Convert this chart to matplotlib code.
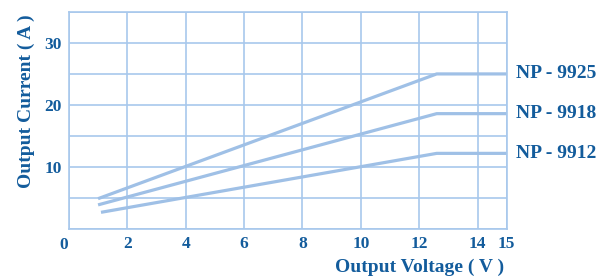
import matplotlib.pyplot as plt

# series: voltage (V) vs current (A)
v_9925 = [1.0, 12.6, 15.0]
i_9925 = [4.9, 25.0, 25.0]
v_9918 = [1.0, 12.6, 15.0]
i_9918 = [3.9, 18.6, 18.6]
v_9912 = [1.1, 12.6, 15.0]
i_9912 = [2.7, 12.2, 12.2]
names = ['NP - 9925', 'NP - 9918', 'NP - 9912']

xticks = [2, 4, 6, 8, 10, 12, 14, 15]
yticks = [10, 20, 30]

line_c = '#9fc0e6'
grid_c = '#a8c8ec'
text_c = '#135c9c'

plt.rcParams['font.family'] = 'Liberation Serif'
plt.rcParams['font.weight'] = 'bold'

fig = plt.figure(figsize=(6.15, 2.76), dpi=100)
ax = fig.add_axes([0.112, 0.170, 0.712, 0.787])

for v, i, n in zip([v_9925, v_9918, v_9912], [i_9925, i_9918, i_9912], names):
    ax.plot(v, i, color=line_c, lw=2.3, solid_capstyle='butt')
    ax.text(15.33, i[-1], n, color=text_c, fontsize=14, fontweight='bold',
            va='center', ha='left', clip_on=False)

ax.set_xlim(0, 15)
ax.set_ylim(0, 35)
ax.set_xticks(xticks)
ax.set_yticks(yticks)
ax.set_xticks(range(0, 16, 2), minor=True)
ax.set_yticks(range(0, 36, 5), minor=True)
ax.grid(True, which='both', color=grid_c, lw=1.2)
ax.set_axisbelow(True)
for s in ax.spines.values():
    s.set_color(grid_c)
    s.set_linewidth(1.2)
ax.tick_params(which='both', length=0, colors=text_c, labelsize=12.5, pad=5)
for lab in ax.get_xticklabels() + ax.get_yticklabels():
    lab.set_fontweight('bold')
ax.text(-0.003, -0.035, '0', transform=ax.transAxes, color=text_c, fontsize=12.5,
        fontweight='bold', ha='right', va='top')

ax.set_xlabel('Output Voltage ( V )', color=text_c, fontsize=14, fontweight='bold')
ax.xaxis.set_label_coords(0.80, -0.135)
ax.set_ylabel('Output Current ( A )', color=text_c, fontsize=14, fontweight='bold')
ax.yaxis.set_label_coords(-0.078, 0.59)

fig.savefig('out.png', dpi=100)
